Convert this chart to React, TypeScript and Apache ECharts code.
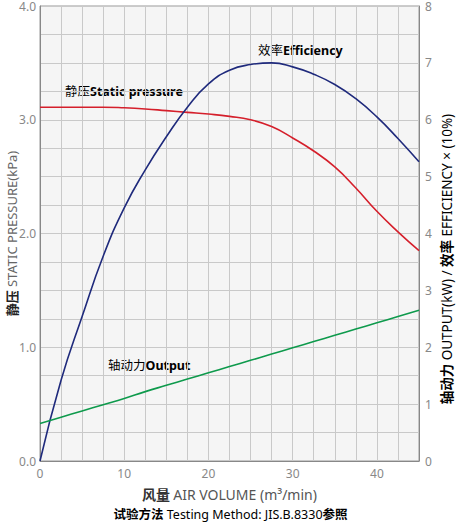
import React, { useEffect, useRef } from "react";
import * as echarts from "echarts";

// air volume (m3/min), sampled every 2.5
const airVolume = [0, 2.5, 5, 7.5, 10, 12.5, 15, 17.5, 20, 22.5, 25, 27.5, 30, 32.5, 35, 37.5, 40, 42.5, 45];

// static pressure (kPa), left axis
const staticPressure = [3.11, 3.11, 3.11, 3.11, 3.105, 3.095, 3.08, 3.065, 3.05, 3.03, 3.0, 2.94, 2.84, 2.725, 2.585, 2.4, 2.195, 2.015, 1.85];

// efficiency x 10%, right axis
const efficiency = [0, 1.42, 2.54, 3.6, 4.45, 5.12, 5.7, 6.22, 6.63, 6.87, 6.97, 7.0, 6.93, 6.8, 6.62, 6.37, 6.05, 5.67, 5.26];

// shaft output kW, right axis
const output = [0.66, 0.77, 0.88, 0.99, 1.1, 1.22, 1.33, 1.44, 1.55, 1.66, 1.77, 1.88, 1.99, 2.1, 2.21, 2.32, 2.43, 2.54, 2.65];

const RED = "#d51f2b";
const NAVY = "#1f2a7c";
const GREEN = "#0e9a4c";
const FONT = "'Noto Sans', 'Noto Sans CJK SC', sans-serif";

const pairs = (ys: number[]) => airVolume.map((x, i) => [x, ys[i]]);

export default function App() {
  const chartRef = useRef<HTMLDivElement>(null);

  useEffect(() => {
    if (!chartRef.current) return;
    const chart = echarts.init(chartRef.current, null, { renderer: "svg" });

    const nameRich = {
      b: { fontSize: 13, fontWeight: "bold", color: "#222", fontFamily: FONT, lineHeight: 16 },
      n: { fontSize: 13, color: "#666", fontFamily: FONT, lineHeight: 16 },
    };

    chart.setOption({
      animation: false,
      textStyle: { fontFamily: FONT },
      grid: {
        left: 40,
        right: 42,
        top: 6,
        bottom: 62,
        containLabel: false,
        outerBoundsMode: "none",
        show: true,
        backgroundColor: "#f5f5f5",
        borderColor: "#999",
        borderWidth: 1,
      },
      xAxis: {
        type: "value",
        min: 0,
        max: 45,
        interval: 2.5,
        name: "{b|风量} {n|AIR VOLUME (m³/min)}",
        nameLocation: "middle",
        nameGap: 25,
        nameTextStyle: {
          rich: {
            b: { fontSize: 14, fontWeight: "bold", color: "#333", fontFamily: FONT, lineHeight: 16 },
            n: { fontSize: 14, color: "#555", fontFamily: FONT, lineHeight: 16 },
          },
        },
        axisLine: { lineStyle: { color: "#888" } },
        axisTick: { show: false },
        axisLabel: {
          color: "#888",
          fontSize: 12,
          margin: 6,
          formatter: (v: number) => (v % 10 === 0 ? String(v) : ""),
        },
        splitLine: { lineStyle: { color: "#c9c9c9" } },
      },
      yAxis: [
        {
          type: "value",
          min: 0,
          max: 4,
          interval: 0.25,
          name: "{b|静压} {n|STATIC PRESSURE(kPa)}",
          nameLocation: "middle",
          nameGap: 20,
          nameMoveOverlap: false,
          nameRotate: 90,
          nameTextStyle: { rich: nameRich },
          axisLine: { show: true, lineStyle: { color: "#888" } },
          axisTick: { show: false },
          axisLabel: {
            color: "#888",
            fontSize: 12,
            margin: 4,
            formatter: (v: number) => (Number.isInteger(v) ? v.toFixed(1) : ""),
          },
          splitLine: { lineStyle: { color: "#c9c9c9" } },
        },
        {
          type: "value",
          min: 0,
          max: 8,
          interval: 1,
          position: "right",
          axisLine: { show: true, lineStyle: { color: "#888" } },
          axisTick: { show: false },
          axisLabel: { color: "#888", fontSize: 12, margin: 6 },
          splitLine: { show: false },
        },
      ],
      graphic: [
        {
          // right axis title, sits a bit below the axis middle
          type: "text",
          x: 447,
          y: 259,
          rotation: Math.PI / 2,
          style: {
            text: "{b|轴动力} {n|OUTPUT(kW) / }{b|效率}{n| EFFICIENCY × (10%)}",
            align: "center",
            verticalAlign: "middle",
            rich: {
              b: { fontSize: 13.5, fontWeight: "bold", color: "#222", fontFamily: FONT, lineHeight: 16 },
              n: { fontSize: 13.5, color: "#666", fontFamily: FONT, lineHeight: 16 },
            },
          },
        },
        {
          type: "text",
          left: "center",
          top: 508,
          style: {
            text: "{b|试验方法} {n|Testing Method: JIS.B.8330}{b|参照}",
            rich: {
              b: { fontSize: 12.5, fontWeight: "bold", color: "#333", fontFamily: FONT, lineHeight: 14 },
              n: { fontSize: 12.5, color: "#555", fontFamily: FONT, lineHeight: 14 },
            },
          },
        },
        {
          type: "text",
          x: 65,
          y: 85,
          style: {
            text: "{c|静压}{e|Static pressure}",
            rich: {
              c: { fontSize: 12.5, color: RED, fontFamily: FONT },
              e: { fontSize: 12.5, fontWeight: "bold", color: RED, fontFamily: FONT },
            },
          },
        },
        {
          type: "text",
          x: 258,
          y: 44,
          style: {
            text: "{c|效率}{e|Efficiency}",
            rich: {
              c: { fontSize: 12.5, color: NAVY, fontFamily: FONT },
              e: { fontSize: 12.5, fontWeight: "bold", color: NAVY, fontFamily: FONT },
            },
          },
        },
        {
          type: "text",
          x: 108,
          y: 359,
          style: {
            text: "{c|轴动力}{e|Output}",
            rich: {
              c: { fontSize: 12.5, color: "#2fb06a", fontFamily: FONT },
              e: { fontSize: 12.5, fontWeight: "bold", color: GREEN, fontFamily: FONT },
            },
          },
        },
      ],
      series: [
        {
          name: "静压Static pressure",
          type: "line",
          yAxisIndex: 0,
          data: pairs(staticPressure),
          smooth: 0.5,
          showSymbol: false,
          lineStyle: { color: RED, width: 1.6 },
          itemStyle: { color: RED },
        },
        {
          name: "效率Efficiency",
          type: "line",
          yAxisIndex: 1,
          data: pairs(efficiency),
          smooth: 0.5,
          showSymbol: false,
          lineStyle: { color: NAVY, width: 1.6 },
          itemStyle: { color: NAVY },
        },
        {
          name: "轴动力Output",
          type: "line",
          yAxisIndex: 1,
          data: pairs(output),
          smooth: 0.5,
          showSymbol: false,
          lineStyle: { color: GREEN, width: 1.6 },
          itemStyle: { color: GREEN },
        },
      ],
    });

    return () => {
      chart.dispose();
    };
  }, []);

  return (
    <div
      ref={chartRef}
      style={{ position: "fixed", left: 0, top: 0, width: 461, height: 523, background: "#fff" }}
    />
  );
}
